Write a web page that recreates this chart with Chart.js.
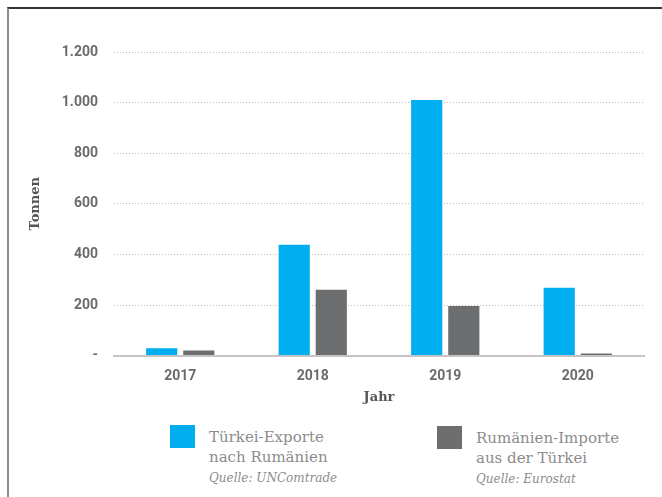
<!DOCTYPE html>
<html lang="de">
<head>
<meta charset="utf-8">
<title>Türkei – Rumänien</title>
<script src="https://cdn.jsdelivr.net/npm/chart.js@4/dist/chart.umd.min.js"></script>
<style>
    html, body {
        margin: 0;
        padding: 0;
        background: #fff;
    }
    #frame {
        position: absolute;
        left: 7px;
        top: 7px;
        width: 655px;
        height: 490px;
        border-top: 2px solid #333;
        border-left: 2px solid #8a8a8a;
    }
    #chartBox {
        position: absolute;
        left: 0;
        top: 0;
        width: 662px;
        height: 415px;
    }
    .legend-item {
        position: absolute;
        font-family: "DejaVu Serif", serif;
        color: #8c8c8c;
    }
    .legend-item .swatch {
        position: absolute;
        left: 0;
        top: 0;
        width: 25px;
        height: 23px;
    }
    .legend-item .label {
        position: absolute;
        left: 39px;
        top: 2px;
        font-size: 15px;
        line-height: 20px;
        white-space: nowrap;
        font-weight: 300;
    }
    .legend-item .source {
        font-style: italic;
        font-size: 12px;
        display: block;
        line-height: 22px;
    }
</style>
</head>
<body>
<div id="frame"></div>
<div id="chartBox"><canvas id="chart"></canvas></div>
<div id="legend"></div>
<script>
// Jahre und Mengen in Tonnen
const years = ['2017', '2018', '2019', '2020'];
const exportsTR = [29, 438, 1010, 268];   // Türkei-Exporte nach Rumänien (UNComtrade)
const importsRO = [20, 260, 196, 8];      // Rumänien-Importe aus der Türkei (Eurostat)
const seriesNames = [
    ['Türkei-Exporte', 'nach Rumänien'],
    ['Rumänien-Importe', 'aus der Türkei']
];
const seriesSources = ['Quelle: UNComtrade', 'Quelle: Eurostat'];
const seriesColors = ['#00aeef', '#6d6e70'];

const tickFont = { family: 'Roboto', size: 14, weight: 'bold' };
const titleFont = { family: 'DejaVu Serif', size: 13, weight: 'bold' };

function formatDE(v) {
    if (v === 0) return '-';
    return String(v).replace(/\B(?=(\d{3})+(?!\d))/g, '.');
}

const ctx = document.getElementById('chart').getContext('2d');
const chart = new Chart(ctx, {
    type: 'bar',
    data: {
        labels: years,
        datasets: [
            {
                label: seriesNames[0].join(' '),
                data: exportsTR,
                backgroundColor: seriesColors[0],
                categoryPercentage: 0.56,
                barPercentage: 0.84
            },
            {
                label: seriesNames[1].join(' '),
                data: importsRO,
                backgroundColor: seriesColors[1],
                categoryPercentage: 0.56,
                barPercentage: 0.84
            }
        ]
    },
    options: {
        responsive: true,
        maintainAspectRatio: false,
        animation: false,
        layout: {
            padding: { left: 28, right: 18, top: 52, bottom: 10 }
        },
        plugins: {
            legend: { display: false },
            tooltip: { enabled: false }
        },
        scales: {
            x: {
                grid: { display: false },
                border: { display: true, color: '#c4c4c4', width: 2 },
                ticks: {
                    color: '#6b6b6b',
                    font: tickFont,
                    padding: 4
                },
                title: {
                    display: true,
                    text: 'Jahr',
                    color: '#555',
                    font: titleFont,
                    padding: { top: 1, bottom: 0 }
                }
            },
            y: {
                min: 0,
                max: 1200,
                grid: {
                    drawTicks: false,
                    color: (c) => c.tick && c.tick.value === 0 ? 'rgba(0,0,0,0)' : '#bdbdbd',
                    lineWidth: 1
                },
                // gepunktete Hilfslinien
                border: { display: false, dash: [1, 2] },
                ticks: {
                    stepSize: 200,
                    color: '#6b6b6b',
                    font: tickFont,
                    padding: 16,
                    callback: (v) => formatDE(v)
                },
                title: {
                    display: true,
                    text: 'Tonnen',
                    color: '#555',
                    font: titleFont,
                    padding: { top: 0, bottom: 14 }
                },
                afterFit: (scale) => { scale.width = 86; }
            }
        }
    }
});

// Legende unter dem Diagramm
const legendBox = document.getElementById('legend');
const legendPos = [[170, 425], [437, 426]];
seriesNames.forEach((name, i) => {
    const item = document.createElement('div');
    item.className = 'legend-item';
    item.style.left = legendPos[i][0] + 'px';
    item.style.top = legendPos[i][1] + 'px';

    const sw = document.createElement('div');
    sw.className = 'swatch';
    sw.style.background = seriesColors[i];
    item.appendChild(sw);

    const label = document.createElement('div');
    label.className = 'label';
    label.innerHTML = name.join('<br>');
    const src = document.createElement('span');
    src.className = 'source';
    src.textContent = seriesSources[i];
    label.appendChild(src);
    item.appendChild(label);

    legendBox.appendChild(item);
});
</script>
</body>
</html>
